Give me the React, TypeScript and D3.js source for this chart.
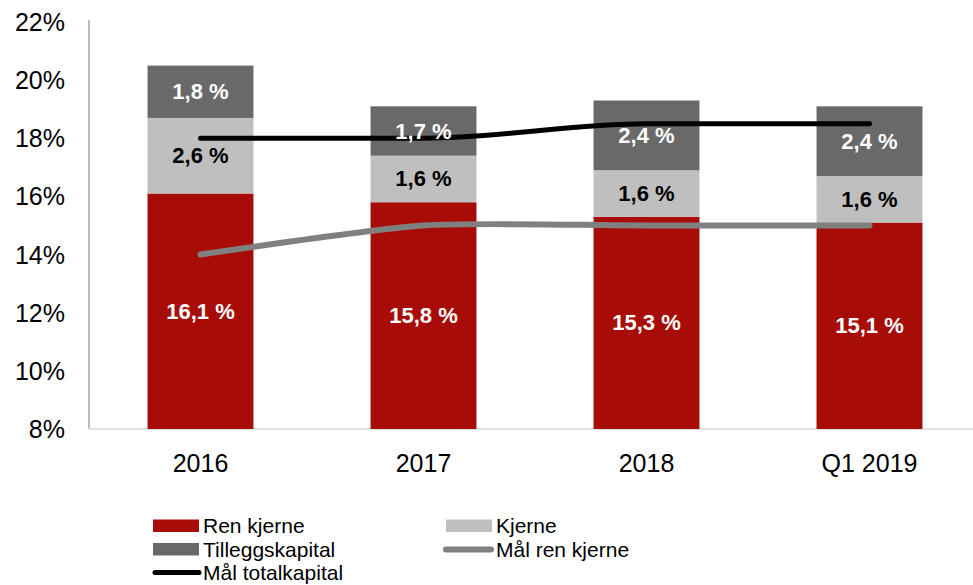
import React from "react";
import * as d3 from "d3";

const categories = ["2016", "2017", "2018", "Q1 2019"];
const renKjerne = [16.1, 15.8, 15.3, 15.1];
const kjerne = [2.6, 1.6, 1.6, 1.6];
const tillegg = [1.8, 1.7, 2.4, 2.4];
const maalTotal = [18, 18, 18.5, 18.5];
const maalRen = [14, 15, 15, 15];
const yTicks = [8, 10, 12, 14, 16, 18, 20, 22];

const W = 973;
const H = 585;
const left = 89;
const right = 981;
const top = 22;
const bottom = 429;
const yMin = 8;

const cRed = "#A80C06";
const cLight = "#BFBFBF";
const cDark = "#696969";
const cGrayLine = "#808080";

const fmt = (v: number) => v.toFixed(1).replace(".", ",") + " %";

export default function App() {
  const x = d3.scaleBand<string>().domain(categories).range([left, right]).padding(0);
  const y = d3.scaleLinear().domain([yMin, 22]).range([bottom, top]);
  const barW = x.bandwidth() * 0.475;
  const cx = (c: string) => (x(c) as number) + x.bandwidth() / 2;

  const series = [
    { name: "Ren kjerne", values: renKjerne, color: cRed, text: "#fff" },
    { name: "Kjerne", values: kjerne, color: cLight, text: "#000" },
    { name: "Tilleggskapital", values: tillegg, color: cDark, text: "#fff" },
  ];

  const segs = categories.map((c, i) => {
    let base = 0;
    return series.map((s) => {
      const v0 = base;
      const v1 = base + s.values[i];
      base = v1;
      return { c, s, v: s.values[i], y0: y(Math.max(v0, yMin)), y1: y(v1) };
    });
  });

  const lineRen = d3
    .line<number>()
    .x((_, i) => cx(categories[i]))
    .y((d) => y(d))
    .curve(d3.curveCardinal.tension(0.3));
  const lineTot = d3
    .line<number>()
    .x((_, i) => cx(categories[i]))
    .y((d) => y(d))
    .curve(d3.curveMonotoneX);

  const font = "Liberation Sans, Arial, sans-serif";

  return (
    <svg width={W} height={H} style={{ position: "absolute", left: 0, top: 0, background: "#fff" }} fontFamily={font}>
      <line x1={left} x2={left} y1={20} y2={bottom} stroke="#A6A6A6" strokeWidth={1.5} />
      <line x1={left} x2={W} y1={bottom} y2={bottom} stroke="#D9D9D9" strokeWidth={1.5} />
      {yTicks.map((t) => (
        <text key={t} x={65} y={y(t)} textAnchor="end" dominantBaseline="central" fontSize={25} fill="#000">
          {t}%
        </text>
      ))}
      {categories.map((c) => (
        <text key={c} x={cx(c)} y={463} textAnchor="middle" dominantBaseline="central" fontSize={25} fill="#000">
          {c}
        </text>
      ))}
      {segs.flat().map((d) => (
        <rect key={d.c + d.s.name} x={cx(d.c) - barW / 2} width={barW} y={d.y1} height={d.y0 - d.y1} fill={d.s.color} />
      ))}
      <path d={lineRen(maalRen) || ""} fill="none" stroke={cGrayLine} strokeWidth={6} strokeLinecap="round" />
      <path d={lineTot(maalTotal) || ""} fill="none" stroke="#000" strokeWidth={5} strokeLinecap="round" />
      {segs.flat().map((d) => (
        <text
          key={"t" + d.c + d.s.name}
          x={cx(d.c)}
          y={(d.y0 + d.y1) / 2}
          textAnchor="middle"
          dominantBaseline="central"
          fontSize={22}
          fontWeight="bold"
          fill={d.s.text}
        >
          {fmt(d.v)}
        </text>
      ))}
      <g fontSize={21}>
        <rect x={153} y={519.5} width={46} height={12.5} fill={cRed} />
        <text x={203} y={525.5} dominantBaseline="central">Ren kjerne</text>
        <rect x={446} y={519.5} width={46} height={12.5} fill={cLight} />
        <text x={496} y={525.5} dominantBaseline="central">Kjerne</text>
        <rect x={153} y={543} width={46} height={12.5} fill={cDark} />
        <text x={203} y={549} dominantBaseline="central">Tilleggskapital</text>
        <line x1={446} x2={491} y1={549.5} y2={549.5} stroke={cGrayLine} strokeWidth={6} strokeLinecap="round" />
        <text x={496} y={549} dominantBaseline="central">Mål ren kjerne</text>
        <line x1={155} x2={199} y1={572.5} y2={572.5} stroke="#000" strokeWidth={5} strokeLinecap="round" />
        <text x={203} y={572.5} dominantBaseline="central">Mål totalkapital</text>
      </g>
    </svg>
  );
}
